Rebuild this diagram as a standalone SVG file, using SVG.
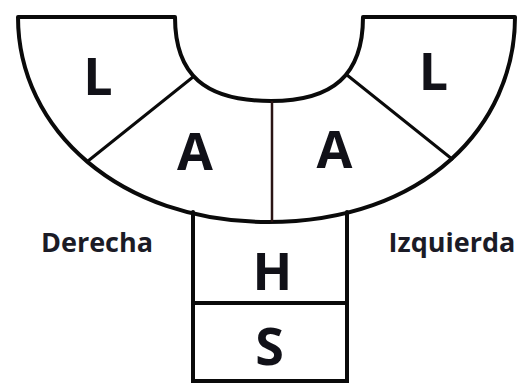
<svg xmlns="http://www.w3.org/2000/svg" width="518" height="383" viewBox="0 0 518 383">
<style>
.ln{fill:none;stroke:#0a0a0a;stroke-width:4;stroke-linecap:round;stroke-linejoin:round}
.thin{fill:none;stroke:#0a0a0a;stroke-width:3;stroke-linecap:round}
.mid{fill:none;stroke:#2a1414;stroke-width:2.5}
.big{font-family:"Open Sans","Liberation Sans",sans-serif;font-weight:bold;font-size:52px;fill:#111118;text-anchor:middle}
.lbl{font-family:"Open Sans","Liberation Sans",sans-serif;font-weight:bold;font-size:27px;fill:#1b1b26;text-anchor:middle}
</style>
<rect width="518" height="383" fill="#ffffff"/>
<g id="connectors">
<path class="ln" d="M18,17 L175,17 C175,75 205,101 271,101 C333,101 363,75 363,17 L515,17 C515,125 425,222 268,222 C120,222 18,130 18,17 Z"/>
<line class="thin" x1="193" y1="77" x2="88" y2="161"/>
<line class="thin" x1="347" y1="75" x2="452" y2="159"/>
<line class="mid" x1="272" y1="101" x2="272" y2="222"/>
<line class="ln" x1="193" y1="212" x2="193" y2="385"/>
<line class="ln" x1="347" y1="212" x2="347" y2="385"/>
<line class="ln" x1="193" y1="303" x2="347" y2="303"/>
<line class="ln" x1="193" y1="381" x2="347" y2="381"/>
</g>
<g id="L-derecha"><text class="big" x="98" y="95">L</text></g>
<g id="A-derecha"><text class="big" x="195" y="170">A</text></g>
<g id="A-izquierda"><text class="big" x="334.5" y="168">A</text></g>
<g id="L-izquierda"><text class="big" x="433.5" y="90">L</text></g>
<g id="H"><text class="big" x="272.5" y="290">H</text></g>
<g id="S"><text class="big" x="269.5" y="365">S</text></g>
<g id="derecha"><text class="lbl" x="97" y="252">Derecha</text></g>
<g id="izquierda"><text class="lbl" x="452" y="252">Izquierda</text></g>
</svg>
